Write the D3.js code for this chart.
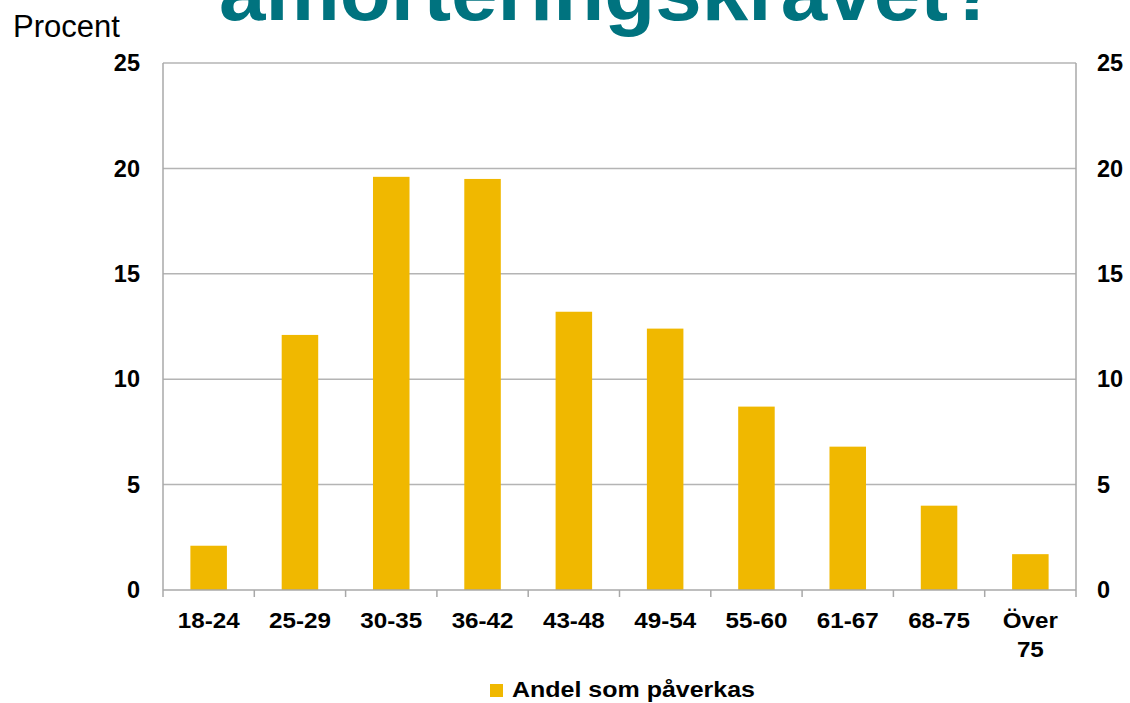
<!DOCTYPE html>
<html><head><meta charset="utf-8">
<script src="https://cdn.jsdelivr.net/npm/d3@7"></script>
<style>body{margin:0;background:#fff;}svg{display:block;font-family:Arial,"Liberation Sans",sans-serif;}</style>
</head><body>
<svg id="c" width="1130" height="703"></svg>
<script>
const categories = ["18-24","25-29","30-35","36-42","43-48","49-54","55-60","61-67","68-75","Över 75"];
const values = [2.1, 12.1, 19.6, 19.5, 13.2, 12.4, 8.7, 6.8, 4.0, 1.7];
const yTicks = [0, 5, 10, 15, 20, 25];
const seriesName = "Andel som påverkas";
const titleText = "amorteringskravet?";
const unitLabel = "Procent";

const svg = d3.select("#c");
const m = {l:163, r:1076, t:63, b:590};
const x = d3.scaleBand().domain(categories).range([m.l, m.r]).padding(0);
const y = d3.scaleLinear().domain([0,25]).range([m.b, m.t]);
const barColor = "#F0B800";
const gridColor = "#B4B4B4";

// title
svg.append("text").attr("x", 609).attr("y", 20).attr("text-anchor","middle")
  .attr("font-size", 82).attr("font-weight","bold").attr("fill","#00737F")
  .attr("textLength", 780).attr("lengthAdjust","spacingAndGlyphs")
  .text(titleText);
svg.append("text").attr("x", 13).attr("y", 37).attr("font-size", 31).attr("fill","#000").text(unitLabel);

// gridlines
svg.append("g").selectAll("line").data(yTicks.filter(d=>d>0)).join("line")
  .attr("x1", m.l).attr("x2", m.r).attr("y1", d=>y(d)).attr("y2", d=>y(d))
  .attr("stroke", gridColor).attr("stroke-width", 1.5);

// bars
const bw = x.bandwidth()*0.4;
svg.append("g").selectAll("rect").data(categories).join("rect")
  .attr("x", (d)=>x(d)+x.bandwidth()/2-bw/2)
  .attr("width", bw)
  .attr("y", (d,i)=>y(values[i]))
  .attr("height", (d,i)=>y(0)-y(values[i]))
  .attr("fill", barColor);

// axes lines
const axisColor = "#A8A8A8";
svg.append("line").attr("x1", m.l).attr("x2", m.l).attr("y1", m.t).attr("y2", m.b+7).attr("stroke", axisColor).attr("stroke-width",1.5);
svg.append("line").attr("x1", m.r).attr("x2", m.r).attr("y1", m.t).attr("y2", m.b+7).attr("stroke", axisColor).attr("stroke-width",1.5);
svg.append("line").attr("x1", m.l).attr("x2", m.r).attr("y1", m.b).attr("y2", m.b).attr("stroke", axisColor).attr("stroke-width",1.5);
const bounds = categories.slice(1).map(d=>x(d));
svg.append("g").selectAll("line").data(bounds).join("line")
  .attr("x1", d=>d).attr("x2", d=>d).attr("y1", m.b).attr("y2", m.b+7)
  .attr("stroke", axisColor).attr("stroke-width",1.5);

// y tick labels
const lab = svg.append("g").attr("font-weight","bold").attr("fill","#000");
lab.selectAll("text.l").data(yTicks).join("text").attr("class","l").attr("font-size", 23.5)
  .attr("x", 140).attr("y", d=>y(d)).attr("dy","0.35em").attr("text-anchor","end").text(d=>d);
lab.selectAll("text.r").data(yTicks).join("text").attr("class","r").attr("font-size", 23.5)
  .attr("x", 1097).attr("y", d=>y(d)).attr("dy","0.35em").attr("text-anchor","start").text(d=>d);

// x labels (slightly wide)
const xl = lab.selectAll("g.x").data(categories).join("g").attr("class","x")
  .attr("transform", d=>`translate(${x(d)+x.bandwidth()/2},628) scale(1.1,1)`);
xl.append("text").attr("text-anchor","middle").attr("font-size", 22).each(function(d){
  const parts = d.split(" ");
  const t = d3.select(this);
  parts.forEach((p,i)=>t.append("tspan").attr("x", 0).attr("dy", i===0?0:29).text(p));
});

// legend
svg.append("rect").attr("x", 490).attr("y", 684).attr("width", 13).attr("height", 13).attr("fill", barColor);
svg.append("text").attr("x", 512).attr("y", 697).attr("font-size", 22).attr("font-weight","bold")
  .attr("textLength", 243).attr("lengthAdjust","spacingAndGlyphs").text(seriesName);
</script>
</body></html>
